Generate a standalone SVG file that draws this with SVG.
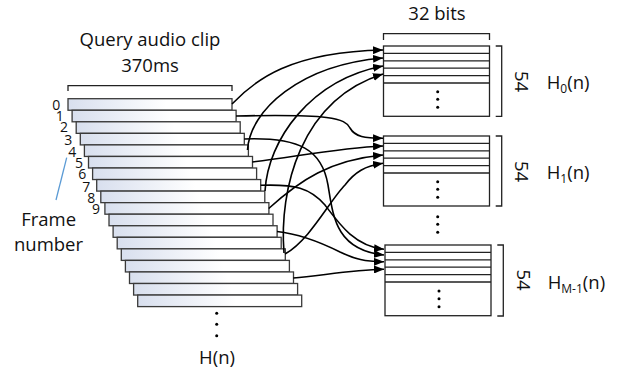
<svg xmlns="http://www.w3.org/2000/svg" width="633" height="376" viewBox="0 0 633 376">
<defs>
<linearGradient id="fg" x1="0" y1="0" x2="1" y2="0">
<stop offset="0" stop-color="#d8dfee"/>
<stop offset="0.6" stop-color="#ffffff"/>
<stop offset="1" stop-color="#ffffff"/>
</linearGradient>
<marker id="ah" markerUnits="userSpaceOnUse" markerWidth="10" markerHeight="8" refX="10" refY="4" orient="auto">
<path d="M0,0 L10,4 L0,8 z" fill="#000"/>
</marker>
</defs>
<style>
text{font-family:"Open Sans","Liberation Sans",sans-serif;fill:#111}
.t{font-size:18.5px}
.d{font-size:14px}
.fr{fill:url(#fg);stroke:#3a3a3a;stroke-width:1.3}
.tb{fill:#fff;stroke:#222;stroke-width:1.3}
.ln{stroke:#222;stroke-width:1.3;fill:none}
.br{stroke:#222;stroke-width:1.3;fill:none}
.c{fill:none;stroke:#000;stroke-width:1.6;marker-end:url(#ah)}
.dot{fill:#000}
</style>
<g id="labels">
<text class="t" x="150" y="46" text-anchor="middle">Query audio clip</text>
<text class="t" x="150" y="71.7" text-anchor="middle">370ms</text>
<path class="br" d="M68,91 V85.7 H232 V91"/>
<text class="t" x="48.7" y="225.7" text-anchor="middle">Frame</text>
<text class="t" x="48.5" y="251" text-anchor="middle">number</text>
<line x1="66.7" y1="157.7" x2="56" y2="200" stroke="#5b9bd5" stroke-width="1.3"/>
<text class="d" x="52.3" y="110">0</text>
<text class="d" x="55.7" y="120.7">1</text>
<text class="d" x="60" y="131.7">2</text>
<text class="d" x="64.3" y="145">3</text>
<text class="d" x="68.3" y="156.7">4</text>
<text class="d" x="75" y="167.7">5</text>
<text class="d" x="78.3" y="179.3">6</text>
<text class="d" x="82.3" y="192.3">7</text>
<text class="d" x="87.3" y="203.3">8</text>
<text class="d" x="92" y="214">9</text>
<circle class="dot" cx="216.7" cy="313.3" r="1.5"/>
<circle class="dot" cx="216.7" cy="324.3" r="1.5"/>
<circle class="dot" cx="216.7" cy="335.7" r="1.5"/>
<text class="t" x="217" y="364" text-anchor="middle">H(n)</text>
<text class="t" x="437" y="20" text-anchor="middle">32 bits</text>
<path class="br" d="M383.5,40 V33.7 H489.5 V40"/>
<circle class="dot" cx="437.7" cy="216.7" r="1.5"/>
<circle class="dot" cx="437.7" cy="224.3" r="1.5"/>
<circle class="dot" cx="437.7" cy="232.3" r="1.5"/>
</g>
<g id="frames">
<rect class="fr" x="68" y="98.7" width="164" height="11.55"/>
<rect class="fr" x="72.1" y="110.25" width="164" height="11.55"/>
<rect class="fr" x="76.2" y="121.8" width="164" height="11.55"/>
<rect class="fr" x="80.3" y="133.35" width="164" height="11.55"/>
<rect class="fr" x="84.4" y="144.9" width="164" height="11.55"/>
<rect class="fr" x="88.5" y="156.45" width="164" height="11.55"/>
<rect class="fr" x="92.6" y="168" width="164" height="11.55"/>
<rect class="fr" x="96.7" y="179.55" width="164" height="11.55"/>
<rect class="fr" x="100.8" y="191.1" width="164" height="11.55"/>
<rect class="fr" x="104.9" y="202.65" width="164" height="11.55"/>
<rect class="fr" x="109" y="214.2" width="164" height="11.55"/>
<rect class="fr" x="113.1" y="225.75" width="164" height="11.55"/>
<rect class="fr" x="117.2" y="237.3" width="164" height="11.55"/>
<rect class="fr" x="121.3" y="248.85" width="164" height="11.55"/>
<rect class="fr" x="125.4" y="260.4" width="164" height="11.55"/>
<rect class="fr" x="129.5" y="271.95" width="164" height="11.55"/>
<rect class="fr" x="133.6" y="283.5" width="164" height="11.55"/>
<rect class="fr" x="137.7" y="295.05" width="164" height="11.55"/>
</g>
<g id="H0">
<rect class="tb" x="383.5" y="46" width="106" height="70.3"/>
<path class="ln" d="M383.5,53.4 H489.5 M383.5,60.8 H489.5 M383.5,68.2 H489.5 M383.5,75.6 H489.5 M383.5,83 H489.5"/>
<circle class="dot" cx="437.7" cy="91.7" r="1.5"/>
<circle class="dot" cx="437.7" cy="99.3" r="1.5"/>
<circle class="dot" cx="437.7" cy="107.3" r="1.5"/>
<path class="br" d="M495.7,46 H501.7 V116.3 H495.7"/>
<text class="t" transform="translate(515,81.5) rotate(90)" text-anchor="middle">54</text>
<text class="t" x="546.7" y="89.3">H<tspan font-size="12" dy="4">0</tspan><tspan dy="-4">(n)</tspan></text>
</g>
<g id="H1">
<rect class="tb" x="383.5" y="136" width="106" height="70"/>
<path class="ln" d="M383.5,143.4 H489.5 M383.5,150.8 H489.5 M383.5,158.2 H489.5 M383.5,165.6 H489.5 M383.5,173 H489.5"/>
<circle class="dot" cx="437.7" cy="181.7" r="1.5"/>
<circle class="dot" cx="437.7" cy="189.3" r="1.5"/>
<circle class="dot" cx="437.7" cy="197.3" r="1.5"/>
<path class="br" d="M495.7,136 H501.7 V206 H495.7"/>
<text class="t" transform="translate(515,171.5) rotate(90)" text-anchor="middle">54</text>
<text class="t" x="546.7" y="179.3">H<tspan font-size="12" dy="4">1</tspan><tspan dy="-4">(n)</tspan></text>
</g>
<g id="HM1">
<rect class="tb" x="385" y="245" width="106" height="70.7"/>
<path class="ln" d="M385,252.4 H491 M385,259.8 H491 M385,267.2 H491 M385,274.6 H491 M385,282 H491"/>
<circle class="dot" cx="439" cy="291" r="1.5"/>
<circle class="dot" cx="439" cy="298.7" r="1.5"/>
<circle class="dot" cx="439" cy="306.7" r="1.5"/>
<path class="br" d="M497.3,245 H503.3 V316 H497.3"/>
<text class="t" transform="translate(516.7,280) rotate(90)" text-anchor="middle">54</text>
<text class="t" x="547.7" y="289">H<tspan font-size="12" dy="4">M-1</tspan><tspan dy="-4">(n)</tspan></text>
</g>
<g id="connectors">
<path class="c" d="M232,104 C255,80 290,52 383,50"/>
<path class="c" d="M247.5,150 C250,110 300,65 383,58"/>
<path class="c" d="M265,191 C268,140 310,80 383,66"/>
<path class="c" d="M284,253 C279,190 300,100 383,74"/>
<path class="c" d="M236,116 C330,114 345,118 350,128 C355,137 365,138 383,138.3"/>
<path class="c" d="M252.4,162 C300,156 340,148 383,146"/>
<path class="c" d="M268.7,208.5 C300,180 330,160 383,155"/>
<path class="c" d="M285,254 C310,240 330,200 345,185 C355,172 365,166 383,163.3"/>
<path class="c" d="M244.2,139 C300,137 322,150 328,185 C333,215 335,250 384,255"/>
<path class="c" d="M260.6,185.3 C295,184 310,188 325,205 C340,225 355,246 384,249.3"/>
<path class="c" d="M277,231.5 C300,234 320,242 340,252 C355,259 365,262 384,261.7"/>
<path class="c" d="M293.3,278 C320,276 350,270 384,269.3"/>
</g>
</svg>
